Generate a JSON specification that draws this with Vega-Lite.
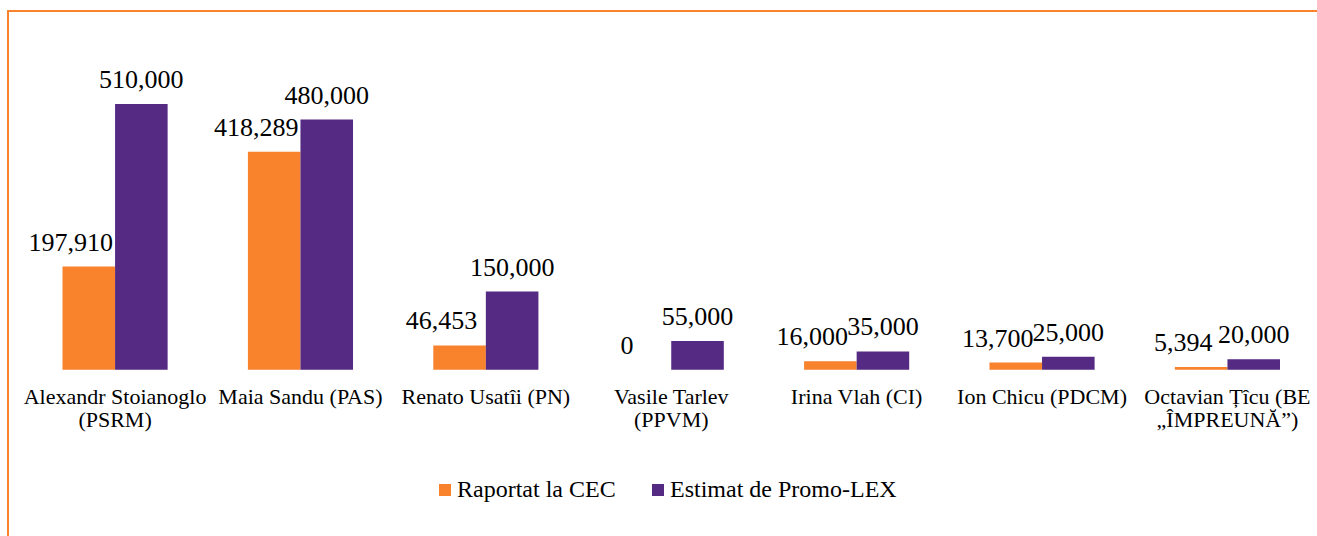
{
  "$schema": "https://vega.github.io/schema/vega-lite/v6.json",
  "width": 1313,
  "height": 529,
  "autosize": "none",
  "padding": {"left": 8, "top": 11, "right": -4, "bottom": -4},
  "background": "#ffffff",
  "config": {
    "view": {"stroke": "#F9822D", "strokeWidth": 2},
    "font": "Liberation Serif",
    "legend": {"labelFont": "Liberation Serif", "labelFontSize": 24, "labelColor": "#000000"},
    "axis": {"labelFont": "Liberation Serif"},
    "text": {"font": "Liberation Serif"}
  },
  "data": {
    "values": [
      {"candidat": "Alexandr Stoianoglo|(PSRM)", "serie": "Raportat la CEC", "valoare": 197910},
      {"candidat": "Alexandr Stoianoglo|(PSRM)", "serie": "Estimat de Promo-LEX", "valoare": 510000},
      {"candidat": "Maia Sandu (PAS)", "serie": "Raportat la CEC", "valoare": 418289},
      {"candidat": "Maia Sandu (PAS)", "serie": "Estimat de Promo-LEX", "valoare": 480000},
      {"candidat": "Renato Usatîi (PN)", "serie": "Raportat la CEC", "valoare": 46453},
      {"candidat": "Renato Usatîi (PN)", "serie": "Estimat de Promo-LEX", "valoare": 150000},
      {"candidat": "Vasile Tarlev|(PPVM)", "serie": "Raportat la CEC", "valoare": 0},
      {"candidat": "Vasile Tarlev|(PPVM)", "serie": "Estimat de Promo-LEX", "valoare": 55000},
      {"candidat": "Irina Vlah (CI)", "serie": "Raportat la CEC", "valoare": 16000},
      {"candidat": "Irina Vlah (CI)", "serie": "Estimat de Promo-LEX", "valoare": 35000},
      {"candidat": "Ion Chicu (PDCM)", "serie": "Raportat la CEC", "valoare": 13700},
      {"candidat": "Ion Chicu (PDCM)", "serie": "Estimat de Promo-LEX", "valoare": 25000},
      {"candidat": "Octavian Țîcu (BE|„ÎMPREUNĂ”)", "serie": "Raportat la CEC", "valoare": 5394},
      {"candidat": "Octavian Țîcu (BE|„ÎMPREUNĂ”)", "serie": "Estimat de Promo-LEX", "valoare": 20000}
    ]
  },
  "encoding": {
    "x": {
      "field": "candidat",
      "type": "nominal",
      "sort": null,
      "scale": {"range": [54.5, 1272], "paddingInner": 0.433, "paddingOuter": 0},
      "axis": {
        "title": null,
        "domain": false,
        "ticks": false,
        "labelAngle": 0,
        "labelFont": "Liberation Serif",
        "labelFontSize": 22,
        "labelColor": "#000000",
        "labelLineHeight": 23,
        "labelLimit": 0,
        "labelPadding": 17,
        "offset": -170.3,
        "labelExpr": "split(datum.value, '|')"
      }
    },
    "xOffset": {
      "field": "serie",
      "type": "nominal",
      "sort": ["Raportat la CEC", "Estimat de Promo-LEX"],
      "scale": {"paddingInner": 0, "paddingOuter": 0}
    },
    "y": {
      "field": "valoare",
      "type": "quantitative",
      "stack": null,
      "scale": {"domain": [0, 600000], "range": [358.7, 46.1], "nice": false, "zero": true},
      "axis": null
    }
  },
  "layer": [
    {
      "mark": {"type": "bar"},
      "encoding": {
        "color": {
          "field": "serie",
          "type": "nominal",
          "sort": ["Raportat la CEC", "Estimat de Promo-LEX"],
          "scale": {"domain": ["Raportat la CEC", "Estimat de Promo-LEX"], "range": ["#F9822D", "#552A82"]},
          "legend": {
            "title": null,
            "orient": "none",
            "direction": "horizontal",
            "legendX": 425,
            "legendY": 467,
            "padding": 0,
            "symbolType": "square",
            "symbolSize": 144,
            "symbolStrokeWidth": 0,
            "labelFont": "Liberation Serif",
            "labelFontSize": 24,
            "labelColor": "#000000",
            "labelOffset": 0,
            "columnPadding": 30,
            "labelLimit": 0
          }
        }
      }
    },
    {
      "transform": [{"filter": "datum.serie === 'Raportat la CEC'"}],
      "mark": {"type": "text", "baseline": "alphabetic", "dy": -16, "dx": -18, "fontSize": 26, "font": "Liberation Serif", "color": "#000000"},
      "encoding": {"text": {"field": "valoare", "type": "quantitative", "format": ",d"}}
    },
    {
      "transform": [{"filter": "datum.serie === 'Estimat de Promo-LEX'"}],
      "mark": {"type": "text", "baseline": "alphabetic", "dy": -16, "fontSize": 26, "font": "Liberation Serif", "color": "#000000"},
      "encoding": {"text": {"field": "valoare", "type": "quantitative", "format": ",d"}}
    }
  ]
}
